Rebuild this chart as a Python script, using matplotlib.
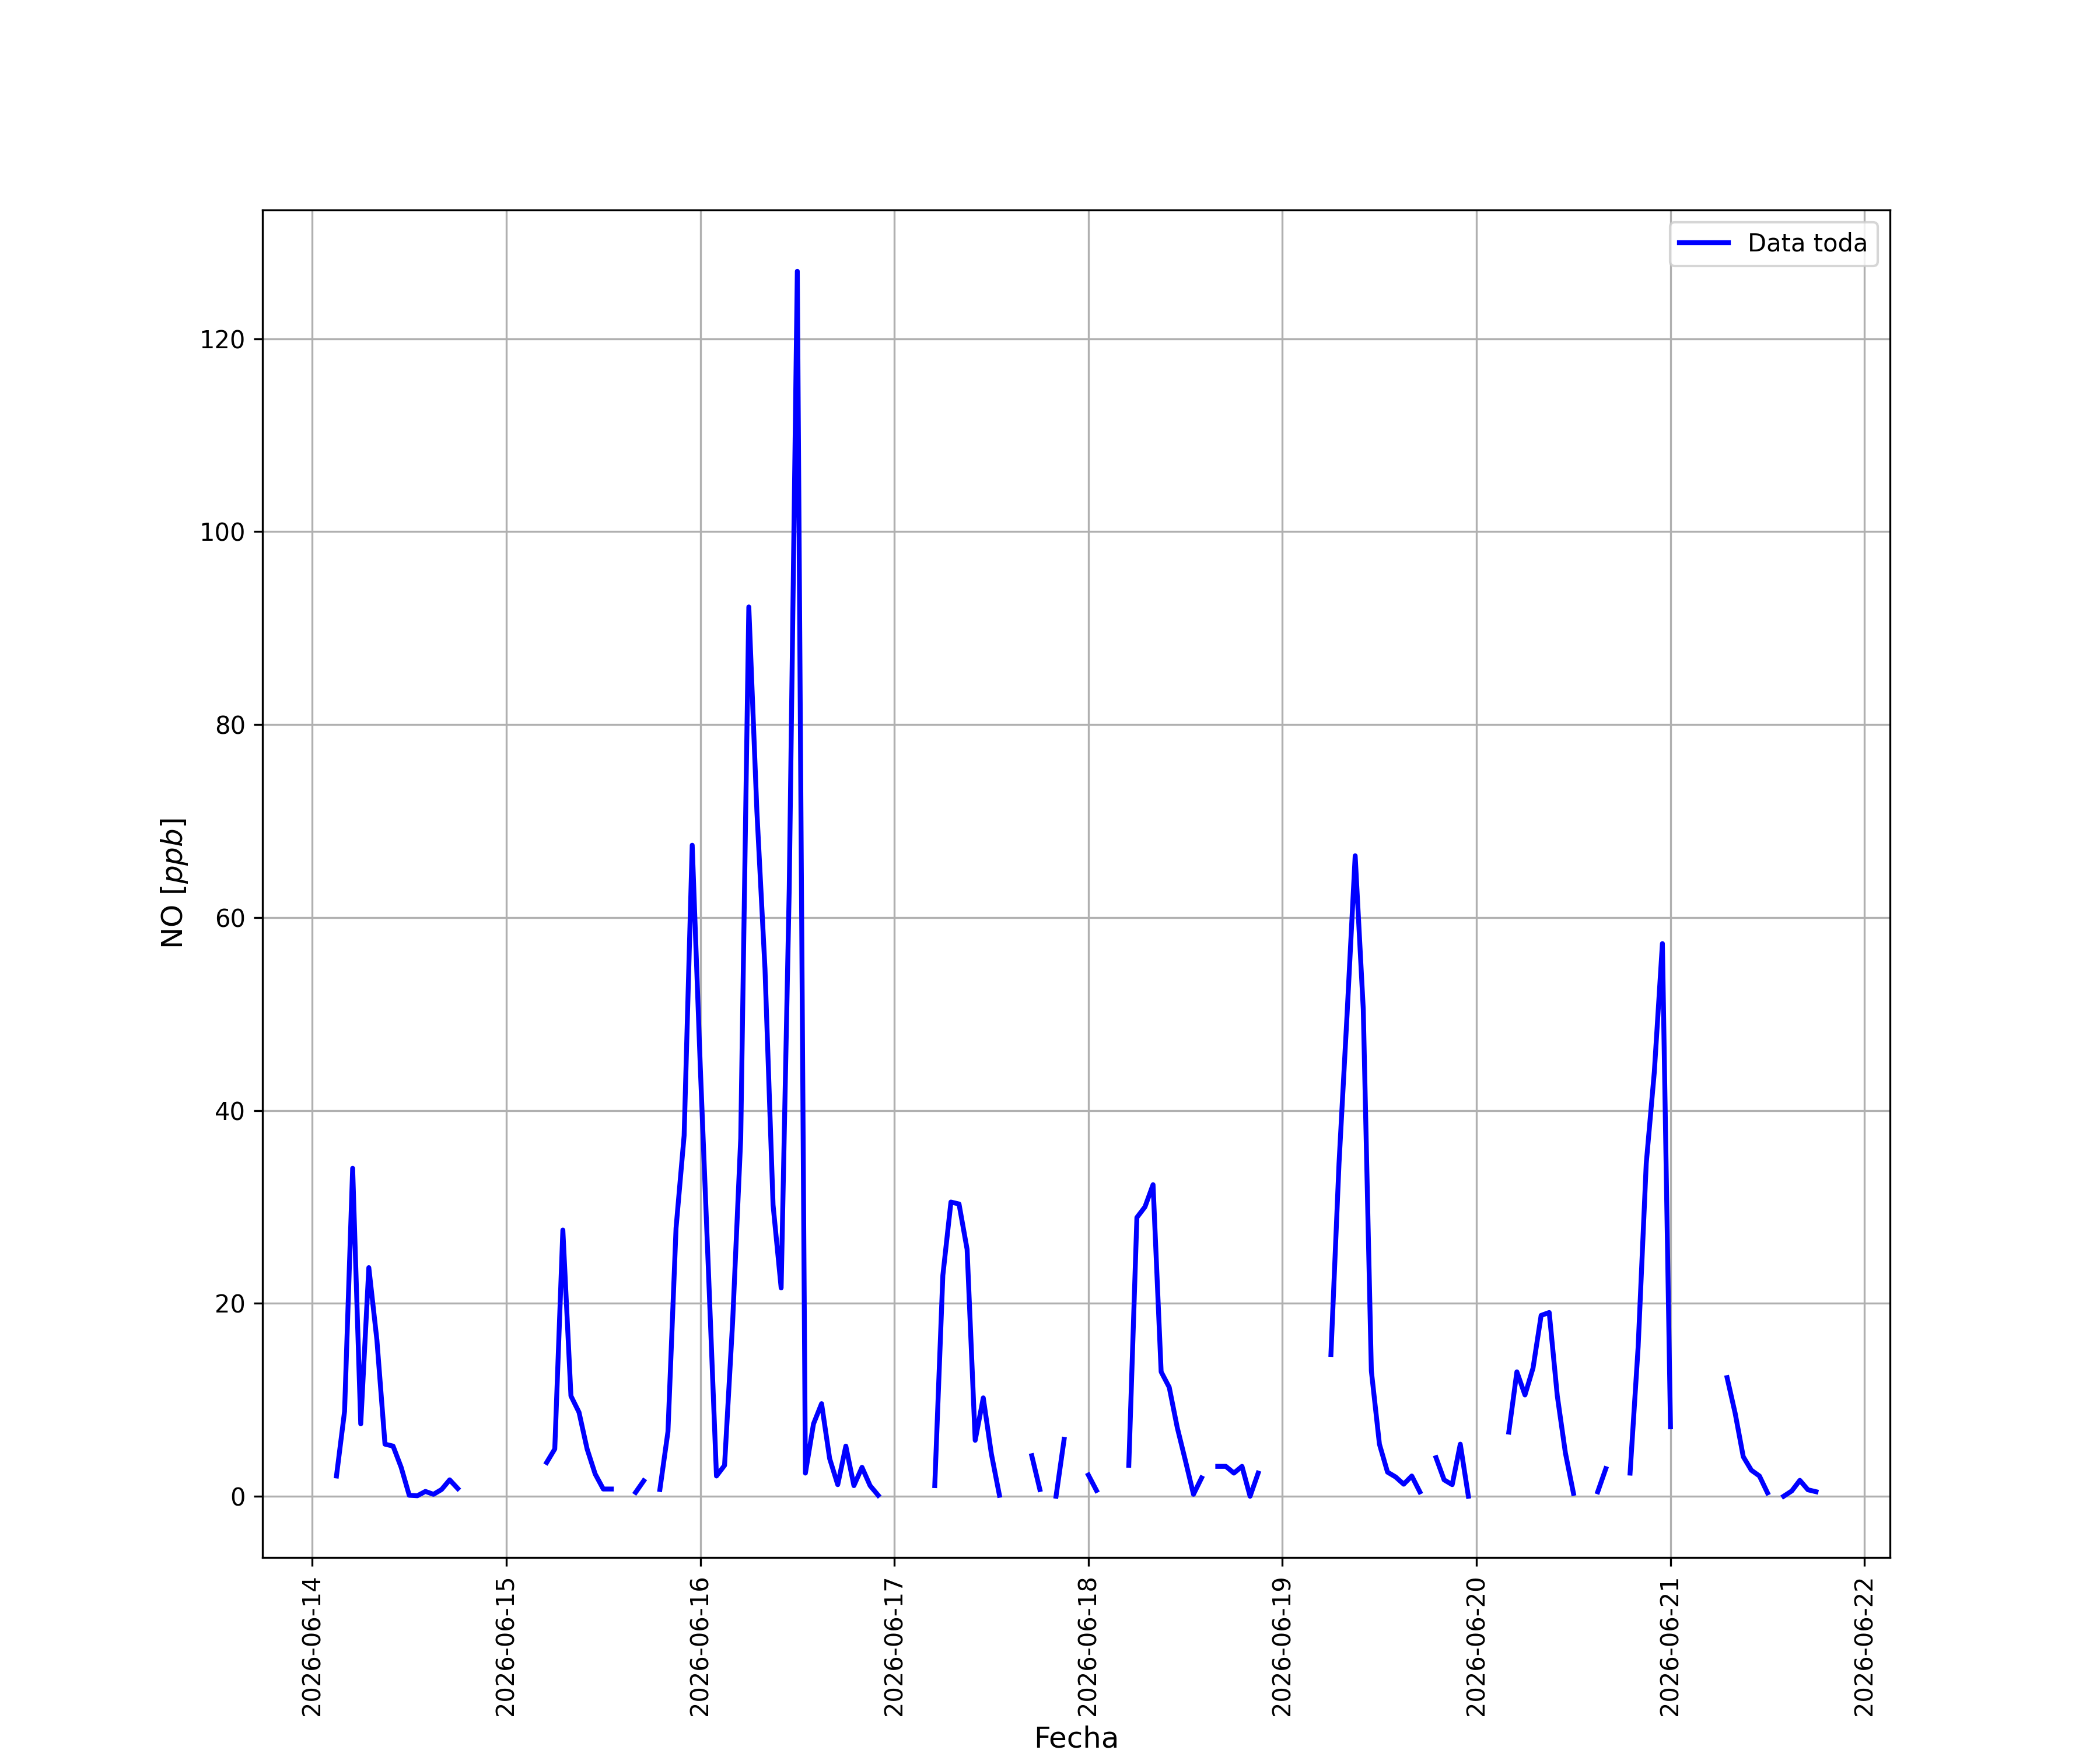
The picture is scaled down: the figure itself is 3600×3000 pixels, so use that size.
import numpy as np
import pandas as pd
from matplotlib import pyplot as plt

nan = np.nan

# NO horario (ppb), una lista por dia, horas 00..23 (nan = sin dato)
no_0614 = [nan, nan, nan, 2.1, 8.8, 34.0, 7.5, 23.7, 16.2, 5.4, 5.2, 3.0,
           0.1, 0.05, 0.5, 0.2, 0.7, 1.7, 0.8, nan, nan, nan, nan, nan]
no_0615 = [nan, nan, nan, nan, nan, 3.5, 4.9, 27.6, 10.4, 8.7, 4.9, 2.3,
           0.75, 0.75, nan, nan, 0.4, 1.6, nan, 0.7, 6.7, 27.8, 37.4, 67.5]
no_0616 = [44.5, 23.5, 2.1, 3.2, 18.1, 37.1, 92.2, 71.0, 54.7, 30.2, 21.6, 63.0,
           127.0, 2.4, 7.5, 9.6, 3.9, 1.2, 5.2, 1.1, 3.0, 1.1, 0.1, nan]
no_0617 = [nan, nan, nan, nan, nan, 1.1, 22.9, 30.5, 30.3, 25.6, 5.8, 10.2,
           4.4, 0.1, nan, nan, nan, 4.2, 0.7, nan, 0.0, 5.9, nan, nan]
no_0618 = [2.2, 0.6, nan, nan, nan, 3.2, 28.9, 30.0, 32.3, 12.9, 11.3, 7.1,
           3.7, 0.2, 1.9, nan, 3.1, 3.1, 2.4, 3.1, 0.0, 2.4, nan, nan]
no_0619 = [nan, nan, nan, nan, nan, nan, 14.7, 34.5, 50.0, 66.4, 50.5, 13.0,
           5.4, 2.5, 2.0, 1.25, 2.1, 0.45, nan, 4.0, 1.7, 1.2, 5.4, 0.0]
no_0620 = [nan, nan, nan, nan, 6.65, 12.9, 10.5, 13.3, 18.75, 19.05, 10.4, 4.5,
           0.3, nan, nan, 0.46, 2.86, nan, nan, 2.4, 15.5, 34.5, 44.0, 57.3]
no_0621 = [7.2, nan, nan, nan, nan, nan, nan, 12.3, 8.6, 4.1, 2.7, 2.1,
           0.35, nan, 0.0, 0.55, 1.65, 0.67, 0.47, nan, nan, nan, nan, nan]

dias = [no_0614, no_0615, no_0616, no_0617, no_0618, no_0619, no_0620, no_0621]

#serie horaria
valores = np.concatenate([np.array(d, dtype=float) for d in dias])
fechas = pd.date_range("2026-06-14 00:00", periods=len(valores), freq="h")
serie = pd.Series(valores, index=fechas)
serie = serie.loc[serie.first_valid_index():serie.last_valid_index()]

#grafico
plt.figure(figsize=(12, 10))
plt.plot(serie.index.to_numpy(), serie.values, color="b", linewidth=2, label="Data toda")
plt.grid(True)
plt.xticks(rotation=90)
plt.xlabel("Fecha", fontsize=12)
plt.ylabel("NO $[ppb]$", fontsize=12)
plt.legend(loc="upper right")
plt.savefig("out.png", dpi=300)
